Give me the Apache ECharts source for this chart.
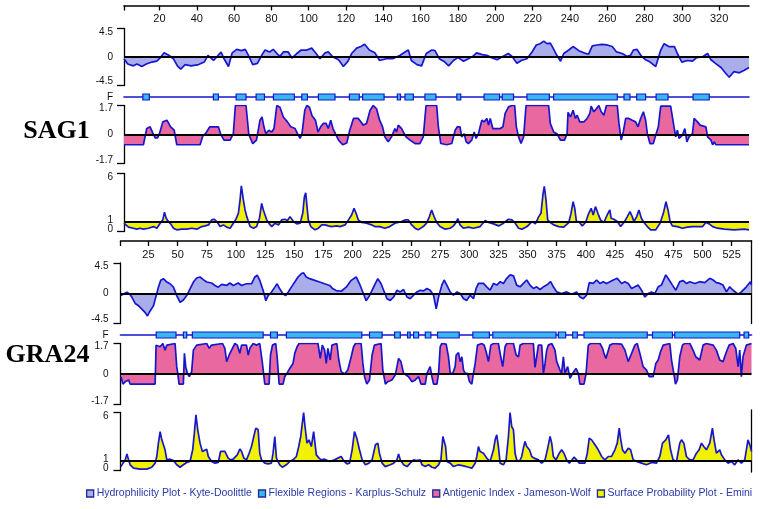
<!DOCTYPE html>
<html><head><meta charset="utf-8">
<script src="https://cdn.jsdelivr.net/npm/echarts@6/dist/echarts.min.js"></script>
<style>html,body{margin:0;padding:0;background:#fff}#c{width:765px;height:509px}</style>
</head><body><div id="c"></div>
<script>
// ---------- DATA ----------
const sag1Length = 336;
const gra24Length = 542;
const sag1TickLabels = [20,40,60,80,100,120,140,160,180,200,220,240,260,280,300,320];
const gra24TickLabels = [25,50,75,100,125,150,175,200,225,250,275,300,325,350,375,400,425,450,475,500,525];

const sag1Hydro = [[1,-0.27],[3,-1.1],[6,-1.4],[8,-1.1],[10.5,-1.5],[13,-1.1],[16,-0.8],[18.6,-0.66],[20,-0.27],[22.5,0.66],[25,0.27],[27.5,-0.27],[29.6,-1.4],[31.4,-1.9],[33.8,-1.2],[37,-1.4],[41,-1.2],[44,-0.8],[46,0.27],[49,-0.55],[50.7,0],[53,0.77],[54.6,-0.27],[57,-1.5],[59,0.66],[61.4,1.2],[64,1.0],[66,1.2],[67.7,0.27],[70,-1.2],[72.5,-1.0],[75,0.38],[76.6,1.1],[79,0.8],[81,1.2],[83,0.55],[84.6,0.1],[86.4,0.8],[89,0.8],[91,-0.16],[93.6,0.55],[96,1.1],[99,1.1],[101.6,1.4],[104,0.55],[106,-0.27],[108.8,0.66],[110.5,0.8],[113,0],[116,-0.44],[118.6,-1.5],[121,-0.7],[123,0.55],[125.7,1.4],[128,1.65],[130,2.0],[132.5,1.1],[135.5,0.66],[138,-0.55],[141.7,-0.27],[145,-0.27],[149,0.27],[151.6,0.8],[153.4,1.1],[155,-0.55],[158,-1.2],[160.5,-1.4],[163,0.55],[166,1.1],[167.7,1.0],[170,-0.27],[173,-0.8],[175,-1.4],[177.6,-0.55],[180,-0.1],[183,-0.66],[185.6,-0.27],[188,0.1],[190,0.66],[193,0.38],[195.5,0.27],[198,-0.1],[201,-0.44],[203.5,0],[207,0.55],[209,0.1],[211.6,-1.0],[214,-0.55],[217,-0.27],[219.7,0.8],[222,1.9],[224,2.1],[226,2.5],[227.7,2.1],[229.5,2.2],[231,1.4],[233,0.27],[235,-0.66],[236.7,0.55],[239.4,1.1],[241.7,1.65],[244.8,1.0],[247.5,0.66],[250,0.44],[252,1.75],[254.6,1.9],[257,2.0],[260,1.9],[262.7,1.65],[265,0.8],[268,0.55],[270.7,0.1],[272.5,0.27],[274,1.1],[276,1.2],[278,0.27],[280.6,-0.44],[283,-0.8],[286,-1.5],[288.7,1.1],[290.5,2.1],[293,1.65],[296,1.65],[297.6,0.55],[300,-0.8],[303,-0.55],[305.7,-0.66],[308,-0.1],[311,0],[313.8,0.55],[315.6,-0.44],[318,-1.0],[321,-1.65],[323.6,-2.6],[325.4,-3.2],[328,-2.3],[330.8,-2.5],[333.5,-2.1],[336,-1.65]];

const sag1Flexible = [[11.1,14.6],[48.9,51.6],[61.1,66.4],[71.8,76.3],[81.1,92.3],[96.3,99.3],[105.2,114.1],[121.8,127.1],[128.9,140.4],[147.5,149.2],[151.6,156.1],[162.3,168.2],[179.4,181.5],[194,202.3],[203.7,209.8],[217,229],[231.3,265.4],[269,272.2],[275.8,280.6],[286.2,292.6],[306,314.7]];

const sag1Antigenic = [[1,-0.6],[11.4,-0.6],[13.2,0.35],[15,0.45],[16.4,0.1],[17.7,-0.2],[19,-0.2],[20,0.05],[21.8,0.74],[24,0.84],[26,0.45],[27.9,0.25],[29.3,-0.6],[41.8,-0.6],[43.2,-0.1],[45,0.1],[47,0.45],[51.6,0.45],[52.9,0],[54.6,-0.33],[57.9,-0.33],[59.6,0.05],[60.7,1.7],[66.4,1.7],[67.9,0],[70,-0.53],[72,-0.33],[73.9,0.84],[75,1.03],[76,0.45],[77,0.05],[78.6,0.25],[80.2,0.15],[81.4,0.35],[82.9,1.7],[84.6,1.6],[86.4,1.03],[88.6,0.74],[90.4,0.45],[92.7,0.35],[94,0.05],[95.4,-0.23],[96.4,0.05],[97.9,1.42],[99,1.7],[100.4,1.6],[101.8,1.1],[103.6,0.84],[105,0.15],[106.4,0.45],[107.9,0.65],[109.3,0.65],[110.5,0.35],[111.8,0.84],[113,0.35],[116,-0.33],[118.2,-0.6],[120.4,-0.5],[122,0.25],[124,0.94],[126.6,0.94],[129.3,0.55],[131,0.65],[132.9,1.42],[134.6,1.7],[136.4,1.5],[138,0.84],[139.6,0.45],[140.8,-0.14],[142.6,-0.43],[143.5,-0.53],[144.4,-0.14],[146.2,0.35],[147.1,0.15],[148,0.55],[148.9,0.65],[149.8,0.35],[150.7,0.45],[152.1,-0.14],[154.3,-0.33],[157,-0.53],[159.6,-0.53],[161.4,-0.14],[162.9,1.7],[168.6,1.7],[169.5,0.45],[170.8,-0.53],[174,-0.6],[176.7,-0.53],[178.5,0.25],[179.7,0.45],[181.1,0.45],[182,-0.14],[183.3,0.05],[184.4,-0.43],[185.6,-0.53],[187.4,-0.33],[188.7,0.15],[189.7,-0.23],[191,0.05],[191.9,0.45],[192.8,0.84],[194,0.74],[195.5,0.94],[196.4,0.55],[197.3,0.94],[198.7,0.35],[202.7,0.35],[204.1,0.45],[205.3,1.24],[207.1,1.62],[208.9,1.7],[210.4,1.7],[211.3,0.45],[212.5,-0.14],[213.8,-0.53],[215.2,-0.14],[216.5,1.7],[228.6,1.7],[229.5,0.65],[231.3,0.15],[233.1,0.05],[234.9,-0.33],[237.1,-0.33],[238.5,0.05],[239,1.3],[240.3,1.03],[241.7,1.42],[243,0.94],[243.9,1.13],[245.3,0.74],[247.5,0.74],[249.2,0.94],[250.7,1.24],[251.4,1.66],[252.8,1.33],[254.3,1.52],[255.5,1.7],[256.8,1.33],[258.2,1.13],[259.6,1.7],[265.4,1.7],[266.3,0.65],[267.5,-0.33],[268.6,0.15],[269.9,0.94],[271.6,0.94],[273.4,0.84],[275.2,0.74],[276.5,0.45],[277.9,0.94],[279.4,1.33],[280.6,0.84],[281.5,0.05],[282.9,-0.53],[284.7,-0.53],[286,-0.04],[287.4,0.45],[288.7,1.66],[294,1.66],[295.5,0.65],[296.7,-0.14],[297.6,0.25],[298.5,-0.23],[300.3,-0.04],[301.6,0.35],[302.7,-0.43],[303.9,-0.14],[305.7,0.05],[306.6,0.94],[308.4,0.74],[309.8,0.55],[312.9,0.45],[313.8,-0.14],[315.6,-0.33],[316.5,-0.6],[317.4,-0.43],[318.2,-0.6],[336,-0.6]];

const sag1Surface = [[1,0.86],[3.4,0.45],[6,0.34],[7.9,0.24],[9.6,0.34],[11.4,0.24],[14.1,0.34],[16.8,0.51],[18.6,0.34],[20.4,0.86],[21.8,1.2],[22.7,2.0],[23.6,1.37],[24.8,1.03],[26,0.79],[27.5,0.34],[29.3,0.17],[32,0.24],[34.6,0.24],[37.3,0.34],[40,0.24],[42.7,0.51],[44.5,0.58],[46.3,0.68],[48,1.2],[49.3,1.27],[50.7,1.03],[52.5,0.51],[54.3,0.68],[56,0.45],[57.9,0.34],[59.6,0.86],[61,1.27],[62.3,1.88],[63.2,3.25],[63.9,4.73],[65,3.25],[65.9,2.23],[66.8,1.54],[67.7,1.03],[68.6,0.51],[70.4,0.34],[72.1,0.51],[73.6,1.37],[74.8,2.91],[75.7,2.23],[76.6,1.71],[77.5,1.2],[78.9,0.79],[80.2,0.51],[82,0.86],[83.8,0.68],[85.5,1.2],[87.3,1.27],[88.6,1.13],[90,1.54],[91,1.61],[91.8,1.03],[93.6,0.79],[95.4,0.86],[96.8,1.88],[97.7,3.6],[98.4,4.0],[99.1,2.57],[99.8,1.2],[101.1,0.51],[103.4,0.17],[105.2,0.34],[107,0.68],[108.8,0.68],[110.5,0.58],[112.3,0.51],[115,0.58],[116.8,0.51],[119.5,0.68],[121.3,1.2],[123,1.71],[124.3,2.4],[125.4,1.88],[126.6,1.2],[128.4,0.93],[131,0.86],[133.8,0.68],[135.5,0.51],[138.1,0.51],[140.8,0.34],[143.5,0.51],[146.2,0.86],[148,0.93],[149.8,1.03],[151.6,1.2],[153.4,1.2],[155.2,0.68],[157,0.34],[158.7,0.17],[161.4,0.51],[163.2,0.86],[164.7,1.54],[165.9,2.23],[167.2,1.54],[168.6,0.93],[170.4,0.51],[173.1,0.24],[175.8,0.34],[177.6,0.58],[179,0.93],[179.9,1.34],[181.1,0.68],[182.9,0.34],[185.6,0.45],[188.3,0.34],[191.9,0.51],[194.6,1.13],[196.4,0.93],[199.1,0.79],[201.8,0.58],[204.4,0.86],[207.1,1.27],[208.9,1.2],[210.7,0.86],[212.5,0.34],[214.3,0.24],[217,0.51],[219.7,1.03],[221.5,0.79],[223.3,1.54],[224.5,1.88],[225.6,3.9],[226.3,4.66],[227.2,3.25],[228.1,1.2],[229.5,0.93],[231.3,0.68],[234,0.51],[236.7,0.45],[239.4,0.93],[240.6,1.88],[241.7,3.08],[242.6,2.4],[243.5,1.03],[244.8,1.03],[246.6,0.58],[248.4,0.93],[250.1,1.88],[251.4,2.4],[252.5,1.71],[253.7,2.57],[255,1.88],[256.4,1.2],[258.2,0.93],[260,1.71],[261.4,2.23],[262.1,1.37],[263.6,1.27],[265.4,1.03],[267.2,0.51],[269,0.93],[270.8,1.54],[272.2,2.05],[273.4,1.54],[274.3,1.03],[275.8,1.54],[277,2.23],[278.3,1.37],[279.7,0.93],[281.5,0.51],[283.3,0.17],[286,0.17],[288.3,0.86],[290.1,1.88],[291.5,3.08],[292.6,2.23],[293.7,1.03],[294.9,0.58],[297.6,0.51],[300.3,0.34],[303,0.45],[305.7,0.51],[308.4,0.51],[311.1,0.51],[312.9,0.93],[314.7,0.79],[316.5,0.51],[319.1,0.34],[322.7,0.24],[328.1,0.17],[333.5,0.24],[336,0.17]];

const gra24Hydro = [[1.4,-0.35],[3.6,-0.1],[6.5,0.15],[8.8,-0.1],[10.8,-0.6],[13.6,-1.52],[16.5,-1.87],[19.3,-2.37],[22.2,-2.88],[24.1,-3.38],[26.4,-2.63],[29.3,-1.87],[31.6,-0.35],[33.5,0.91],[35.5,1.92],[37.8,2.17],[40.7,1.67],[43.5,1.41],[46.4,0.91],[49.2,-0.35],[52.1,-1.36],[54.9,-1.01],[57.8,-0.35],[60.6,0.66],[63.5,1.67],[66.3,2.27],[69.2,2.42],[72,2.02],[74.9,1.67],[79.1,1.52],[82,1.16],[84.8,0.91],[87.7,1.31],[92,1.16],[94.8,1.52],[97.6,1.16],[101.9,1.52],[104.8,1.16],[109,1.41],[113.3,1.41],[116.2,2.42],[118.2,2.68],[120.4,1.92],[123.3,0.4],[125.6,-1.11],[127.6,-0.35],[130.4,0.15],[133.3,0.91],[135.3,1.41],[137.5,0.66],[140.4,-0.1],[142.7,-0.35],[144.7,0.15],[147.5,0.91],[150.4,1.67],[153.2,2.42],[156.1,2.93],[158,3.03],[160.3,2.42],[163.2,2.17],[167.5,1.92],[171.7,1.67],[176,1.41],[180.3,1.16],[183.1,0.66],[186,0.4],[190.2,0.3],[194.5,0.91],[198.8,1.92],[203.1,2.42],[205.9,1.41],[208.8,0.15],[211.6,-1.11],[214.5,-0.35],[218.7,1.16],[221.6,2.17],[224.4,1.41],[229.5,-0.81],[232.3,-1.06],[235.2,-0.56],[238,0.45],[240.9,0.2],[243.7,0.56],[246.6,-0.56],[249.4,-0.81],[252.3,-0.3],[255.1,0.2],[258,0.45],[260.8,0.35],[263.7,0.71],[266.5,0.45],[269.4,-0.3],[271.7,-2.32],[273.7,-0.56],[276.5,1.21],[278.5,1.97],[280.8,1.21],[283.6,0.2],[286.5,-0.3],[289.4,0.2],[292.2,-0.05],[295.1,-0.81],[297.9,-1.06],[300.8,-0.3],[303.6,-0.81],[305.9,0.71],[307.9,1.46],[312.2,1.46],[315,0.96],[317.9,0.45],[320.8,1.46],[323.6,1.21],[326.5,1.72],[329.3,1.46],[332.2,2.22],[335,2.73],[337.9,2.58],[340.7,1.21],[343.6,0.96],[346.4,1.46],[349.3,1.97],[352.1,1.21],[355,0.71],[357.8,0.96],[360.7,0.56],[363.6,0.96],[366.4,1.21],[369.8,1.72],[372.1,0.96],[375,0.2],[379.2,-0.05],[383.5,0.2],[387.8,-0.15],[392.1,0.2],[394.9,-0.56],[397.8,-0.81],[400.6,-0.3],[402.9,1.57],[406.3,1.46],[409.2,1.97],[412,1.46],[414.9,1.72],[417.7,1.46],[420.6,1.72],[423.5,1.97],[426.9,2.22],[430.6,1.46],[433.5,1.72],[436.3,1.46],[439.2,0.71],[442,0.96],[444.9,1.21],[447.7,0.45],[450.6,-0.56],[453.4,-0.05],[456.3,0.2],[459.1,-0.05],[462,0.96],[464.8,1.21],[468.5,2.73],[471.4,1.97],[474.2,1.21],[477.1,0.45],[480.5,1.72],[483.4,1.87],[486.2,1.46],[489.1,1.72],[493.4,1.46],[497.6,1.72],[501.9,1.57],[506.2,2.22],[509.1,1.97],[511.9,1.57],[514.8,1.46],[517.6,1.21],[520.5,0.2],[523.3,0.96],[526.2,0.45],[530.5,-0.15],[533.3,0.2],[537.6,0.96],[541,1.72],[542,1.21]];

const gra24Flexible = [[31.6,48.6],[54.9,57.8],[62.6,123.3],[129.6,135.5],[143.2,207.9],[214.5,225.3],[236,240.9],[247.1,249.4],[252.3,256.6],[262.3,267.1],[272.8,291.4],[303.1,317.3],[320.2,374.4],[376.4,382.7],[388.7,392.7],[398.4,452.6],[457.1,474.2],[476.2,531.9],[535.6,539.6]];

const gra24Antigenic = [[1.4,-0.15],[3.1,-0.56],[5.1,-0.43],[7.9,-0.33],[9.3,-0.56],[30.7,-0.56],[31.5,1.6],[35,1.52],[37.3,1.7],[39.2,1.33],[40.7,1.61],[42.1,1.7],[47.8,1.7],[49.2,0.41],[50.1,0.04],[51.2,-0.56],[54.9,-0.56],[55.8,1.15],[56.9,0.41],[58.3,0.04],[60,-0.15],[62,0.13],[63.5,1.33],[66.3,1.61],[67.7,1.7],[74.9,1.7],[77.1,1.43],[79.1,1.61],[80.6,1.7],[88.5,1.7],[90.5,1.43],[92,0.69],[94.2,1.06],[96.2,1.33],[99.1,1.7],[101.1,1.61],[103.3,1.15],[104.8,1.61],[106.2,1.7],[109,1.61],[110.5,1.06],[111.9,1.43],[114.7,1.7],[117.6,1.61],[120.4,1.7],[122.7,0.59],[124.7,-0.56],[128.4,-0.56],[129.6,1.06],[131.3,1.61],[134.1,1.7],[135.3,0.96],[137,-0.56],[140.4,-0.56],[141.8,-0.15],[143.8,0.04],[146.1,0.31],[148.9,0.59],[150.4,1.15],[152.4,1.52],[154.1,1.7],[170.3,1.7],[172.3,0.87],[174,1.61],[176,1.33],[177.4,0.59],[178.8,1.43],[180.8,0.78],[182.3,1.61],[183.7,1.7],[186.5,1.7],[188.2,0.78],[190.2,0.13],[193.1,0],[195.9,0.22],[198.8,0.96],[200.8,1.52],[202.5,1.7],[207.3,1.7],[208.8,0.59],[210.2,-0.15],[212.2,-0.56],[214.5,-0.33],[216.7,1.06],[218.7,1.61],[224.4,1.7],[225.9,0.22],[228.1,-0.56],[230.1,-0.43],[233.7,-0.33],[236.6,-0.06],[239.4,0.87],[241.4,0.69],[243.7,0.04],[245.1,0.13],[248,-0.15],[250.9,-0.43],[253.7,-0.33],[256.6,-0.15],[258.6,-0.56],[262.3,-0.56],[263.7,0.04],[265.1,0.13],[266.5,0.41],[268,-0.15],[269.4,-0.56],[272.3,-0.56],[273.7,0.04],[275.1,1.52],[276.5,1.7],[280.2,1.67],[282.2,0.96],[283.7,0.04],[285.9,0.04],[287.9,0.41],[288.8,1.06],[290.8,1.19],[292.2,0.69],[293.7,0.96],[295.1,0.22],[296.5,0.04],[298.5,0.04],[300.2,-0.43],[302.2,-0.56],[303.6,0.04],[305.1,0.59],[307.1,1.61],[310.8,1.7],[312.8,1.61],[314.5,1.24],[316.5,0.69],[318.5,1.61],[320.8,1.7],[325,1.7],[327,0.96],[328.7,0.41],[330.7,1.52],[332.2,1.7],[337.9,1.7],[340.2,1.06],[342.2,0.96],[343.6,1.61],[346.4,1.7],[355,1.7],[356.4,0.37],[357.8,0.96],[359.3,1.61],[362.1,1.61],[363.6,0.04],[365,0.59],[366.4,1.33],[367.8,1.61],[370.7,1.7],[373.5,1.33],[375,0.69],[377.8,0.22],[379.2,0.04],[380.7,0.96],[382.1,0.04],[384.4,0.41],[386.4,-0.24],[388.7,0.04],[391.5,0.31],[393.5,0.04],[394.9,-0.56],[398.4,-0.56],[400.1,0],[402.1,1.61],[404.1,1.7],[412.1,1.7],[414.3,1.43],[415.5,1.15],[417.2,0.87],[420.6,1.61],[423.5,1.7],[430.6,1.67],[433.5,1.33],[436.3,0.69],[439.2,1.15],[442,1.61],[444,1.7],[446.3,1.15],[449.1,0.41],[452,0.22],[454.3,-0.15],[457.7,-0.15],[460,0.59],[462,0.78],[464,1.24],[466.3,1.61],[467.7,1.7],[472,1.7],[473.4,0.78],[475.4,0.04],[476.8,-0.56],[478.5,-0.33],[480.5,0.96],[482.8,1.61],[484.8,1.7],[489.1,1.7],[491.9,1.33],[494.2,0.96],[497.6,0.78],[500.5,1.61],[503.3,1.7],[509.1,1.61],[511.9,1.33],[514.8,0.78],[517.6,0.69],[520.5,1.24],[522.8,1.61],[526.2,1.7],[528.5,1.43],[530.5,0.41],[531.9,1.33],[533.3,-0.15],[534.7,0.96],[537.6,1.61],[539,1.7],[542,1.7]];

const gra24Surface = [[1.4,0.41],[3.1,0.76],[5.1,1.1],[6.5,1.72],[7.9,1.1],[9.3,0.59],[12.2,0.24],[17.9,0.14],[23.6,0.14],[27.8,0.34],[30.7,0.76],[32.1,1.45],[33.5,2.83],[35,4.03],[36.4,3.17],[37.8,3.34],[39.2,2.14],[40.7,1.1],[43.5,1.17],[46.4,1.03],[49.2,0.59],[52.1,0.34],[54.9,0.59],[57.8,0.83],[60.6,0.93],[62.9,2.14],[64.3,3.86],[65.7,5.76],[67.2,4.21],[69.2,2.83],[71.2,1.97],[72.6,2.14],[74.9,2.21],[76.3,1.45],[79.1,0.93],[82,0.76],[84.8,0.83],[86.8,1.97],[88.5,1.86],[90.5,1.97],[93.3,1.28],[95.4,1.1],[97.6,1.17],[101.1,1.62],[103.3,2.21],[104.8,1.97],[106.8,1.28],[109,1.1],[111.3,1.79],[113.3,2.48],[115.3,3.52],[117,4.38],[119,4.21],[120.4,1.79],[121.9,1.1],[124.7,0.76],[127.6,0.69],[130.4,0.76],[131.8,1.79],[133.3,3.52],[134.7,1.28],[137.5,0.59],[139.8,0.34],[143.2,0.59],[146.1,0.93],[148.9,1.1],[151.8,1.45],[153.8,2.48],[155.5,3.52],[156.9,4.9],[158,6.0],[159.2,4.55],[160.9,2.83],[162.6,3.17],[164.6,2.48],[166.6,4.03],[168.9,1.62],[171.2,1.28],[173.1,1.1],[176,1.17],[180.3,0.93],[184.5,1.1],[187.4,1.28],[190.2,1.45],[192.2,1.03],[195.1,0.69],[197.4,0.76],[199.6,2.14],[201.6,4.03],[203.6,3.34],[205.9,2.14],[208.2,1.1],[211,0.59],[213.9,0.76],[216.7,1.1],[219.6,2.66],[221.6,2.83],[223,1.79],[225.3,0.76],[228,0.4],[229.5,0.34],[232.3,0.59],[235.2,0.76],[238,1.1],[239.4,1.72],[240.9,1.1],[243.7,0.59],[246.6,0.41],[249.4,0.76],[252.3,1.1],[255.1,1.03],[258,1.1],[259.4,0.59],[262.3,0.41],[265.1,0.59],[268,0.34],[270.8,0.24],[273.7,0.59],[275.7,1.1],[277.4,3.52],[278.5,3.69],[279.7,2.48],[280.8,0.93],[283.7,0.76],[286.5,0.41],[290.8,0.59],[295.1,0.48],[299.4,0.34],[302.2,0.24],[305.1,0.76],[306.5,1.45],[307.9,2.48],[309.3,1.97],[312.2,1.79],[315,1.28],[317.9,0.93],[320.8,2.14],[322.2,3.17],[323.6,3.69],[325,2.48],[326.5,0.76],[329.3,0.59],[331.6,1.1],[333.6,3.52],[335,6.0],[336.4,4.55],[337.9,4.21],[339.3,1.79],[340.7,1.1],[343,0.93],[345,1.45],[346.4,2.31],[347.8,3.0],[349.3,2.48],[351.6,2.14],[353.6,1.45],[355.6,1.28],[357.3,1.45],[359.3,1.1],[362.1,0.76],[365,1.1],[367,2.14],[369.3,3.52],[370.7,2.83],[372.1,1.45],[374.4,1.1],[377.2,1.79],[379.2,2.14],[381.2,1.79],[383.5,1.1],[385.8,0.76],[387.8,1.03],[389.8,1.38],[392.1,1.1],[394.4,0.76],[399.2,0.76],[401.2,1.79],[402.9,3.34],[404.9,3.17],[407.8,2.66],[410.6,2.14],[413.5,1.45],[416.3,1.1],[419.2,1.45],[422,1.45],[424.9,2.14],[426.9,2.83],[428.6,4.38],[429.7,3.34],[431.4,2.14],[433.5,1.79],[436.3,2.31],[438.3,2.14],[440.6,1.1],[443.4,0.93],[447.7,0.76],[452,0.59],[456.3,0.83],[460.6,0.76],[463.4,1.45],[465.7,2.83],[468.5,3.17],[470.8,3.69],[472.6,2.14],[474.8,1.1],[477.7,0.93],[480.5,2.83],[482,3.17],[484,2.83],[486.2,1.45],[489.1,1.1],[491.9,1.1],[494.8,1.79],[497.1,2.14],[499.1,2.83],[501.1,2.48],[503.3,2.14],[506.2,2.83],[508.5,4.38],[509.9,3.17],[511.9,1.79],[514.8,2.14],[516.2,1.62],[519.1,1.1],[521.9,0.76],[524.8,0.93],[527.6,0.59],[530.5,1.1],[533.3,0.76],[536.2,1.1],[539,3.17],[541,2.48],[542,1.97]];

const surfaceBaseline = 1;
const seriesNames = ['Hydrophilicity Plot - Kyte-Doolittle','Flexible Regions - Karplus-Schulz','Antigenic Index - Jameson-Wolf','Surface Probability Plot - Emini'];

// ---------- STYLE ----------
const BLUE = '#1616d0';
const C_HYDRO = '#a9aeea', C_FLEX = '#39b6ec', C_ANT = '#e9689f', C_SURF = '#f2f200';
const LBL = {fontFamily:'Liberation Sans, Arial, sans-serif', color:'#111'};

const grids = [], xAxes = [], yAxes = [], series = [];
function addGrid(g){ grids.push(Object.assign({containLabel:false}, g)); return grids.length - 1; }

function yAxisDef(gi, min, max, labels, margin, padTop, padBottom){
  return {
    type:'value', gridIndex:gi, min, max, position:'left',
    splitLine:{show:false},
    axisLine:{show:true, onZero:false, lineStyle:{color:'#000', width:1.3}},
    axisTick:{show:true, length:7, customValues:[min,max], lineStyle:{color:'#000', width:1.3}},
    axisLabel:{customValues:labels, margin, fontSize:10, lineHeight:4, hideOverlap:false,
      showMinLabel:true, showMaxLabel:true, ...LBL,
      formatter: v => v === max ? '{t|' + v + '}' : (v === min ? '{b|' + v + '}' : '{m|' + v + '}'),
      rich:{
        t:{fontSize:10, lineHeight:4, ...LBL, padding:[padTop,0,0,0]},
        b:{fontSize:10, lineHeight:4, ...LBL, padding:[0,0,padBottom,0]},
        m:{fontSize:10, lineHeight:4, ...LBL}
      }}
  };
}
function hiddenX(gi, len){
  return {type:'value', gridIndex:gi, min:1, max:len, show:false};
}
function baseLine(v){
  return {silent:true, symbol:['none','none'], animation:false, label:{show:false},
    lineStyle:{color:'#000', width:1.8, type:'solid'}, data:[{yAxis:v}]};
}

function addProtein(p){
  const lm = p.labelMargin;
  // hydrophilicity + top residue axis
  let gi = addGrid({left:p.left, width:p.width, top:p.hydroTop, height:p.hydroH});
  xAxes.push({type:'value', gridIndex:gi, min:1, max:p.len, position:'top', offset:p.axisOffset,
    splitLine:{show:false},
    axisLine:{show:true, onZero:false, lineStyle:{color:'#000', width:1.6}},
    axisTick:{show:true, inside:true, length:5, customValues:[1].concat(p.ticks), lineStyle:{color:'#000', width:1.3}},
    axisLabel:{show:true, inside:true, margin:8, customValues:p.ticks, fontSize:11, ...LBL}});
  yAxes.push(yAxisDef(gi, -4.5, 4.5, [-4.5, 0, 4.5], lm, 7, 8));
  series.push({type:'line', name:seriesNames[0], xAxisIndex:xAxes.length-1, yAxisIndex:yAxes.length-1,
    data:p.hydro, symbol:'none', animation:false,
    lineStyle:{color:BLUE, width:1.7}, itemStyle:{color:C_HYDRO},
    areaStyle:{color:C_HYDRO, opacity:1, origin:0}, markLine:baseLine(0)});

  // flexible regions
  gi = addGrid({left:p.left, width:p.width, top:p.flexTop, height:6});
  xAxes.push({type:'value', gridIndex:gi, min:1, max:p.len, position:'bottom',
    splitLine:{show:false}, axisTick:{show:false}, axisLabel:{show:false},
    axisLine:{show:true, onZero:true, lineStyle:{color:BLUE, width:1.6}}});
  yAxes.push({type:'value', gridIndex:gi, min:-1, max:1, splitLine:{show:false},
    axisLine:{show:false}, axisTick:{show:false},
    axisLabel:{customValues:[0], margin:lm, fontSize:10, ...LBL, formatter:() => 'F'}});
  series.push({type:'custom', name:seriesNames[1], xAxisIndex:xAxes.length-1, yAxisIndex:yAxes.length-1,
    data:p.flex, encode:{x:[0,1]}, animation:false, itemStyle:{color:C_FLEX},
    renderItem:(params, api) => {
      const a = api.coord([api.value(0), 1]);
      const b = api.coord([api.value(1), -1]);
      return {type:'rect', shape:{x:a[0], y:a[1], width:b[0]-a[0], height:b[1]-a[1]},
        style:{fill:C_FLEX, stroke:BLUE, lineWidth:1.2}};
    }});

  // antigenic index
  gi = addGrid({left:p.left, width:p.width, top:p.antTop, height:p.antH});
  xAxes.push(hiddenX(gi, p.len));
  yAxes.push(yAxisDef(gi, -1.7, 1.7, [-1.7, 0, 1.7], lm, 6, 6));
  series.push({type:'line', name:seriesNames[2], xAxisIndex:xAxes.length-1, yAxisIndex:yAxes.length-1,
    data:p.ant, symbol:'none', animation:false,
    lineStyle:{color:BLUE, width:1.7}, itemStyle:{color:C_ANT},
    areaStyle:{color:C_ANT, opacity:1, origin:0}, markLine:baseLine(0)});

  // surface probability
  gi = addGrid({left:p.left, width:p.width, top:p.surfTop, height:p.surfH});
  xAxes.push(hiddenX(gi, p.len));
  yAxes.push(yAxisDef(gi, 0, 6, [0, 6], lm, 7, 5));
  series.push({type:'line', name:seriesNames[3], xAxisIndex:xAxes.length-1, yAxisIndex:yAxes.length-1,
    data:p.surf, symbol:'none', animation:false,
    lineStyle:{color:BLUE, width:1.7}, itemStyle:{color:C_SURF},
    areaStyle:{color:C_SURF, opacity:1, origin:surfaceBaseline}, markLine:baseLine(surfaceBaseline)});
  // separate overlay axis carrying the baseline label "1"
  gi = addGrid({left:p.left, width:p.width, top:p.surfTop, height:p.surfH});
  xAxes.push(hiddenX(gi, p.len));
  yAxes.push({type:'value', gridIndex:gi, min:0, max:6, position:'left', splitLine:{show:false},
    axisLine:{show:false}, axisTick:{show:false},
    axisLabel:{customValues:[surfaceBaseline], margin:lm, fontSize:10, ...LBL,
      formatter: v => '{b|' + v + '}', rich:{b:{fontSize:10, lineHeight:4, ...LBL, padding:[0,0,4,0]}}}});

  // right frame pieces
  (p.frames || []).forEach(f => {
    const g = addGrid({left:p.left, width:p.width, top:f[0], height:f[1]});
    xAxes.push(hiddenX(g, p.len));
    yAxes.push({type:'value', gridIndex:g, min:0, max:1, position:'right', splitLine:{show:false},
      axisLine:{show:true, onZero:false, lineStyle:{color:'#000', width:1.3}},
      axisTick:{show:false}, axisLabel:{show:false}});
  });
}

addProtein({len:sag1Length, ticks:sag1TickLabels, left:124, width:625, axisOffset:23,
  hydroTop:28.5, hydroH:57, flexTop:94, antTop:105.5, antH:58, surfTop:173.5, surfH:58, labelMargin:11,
  hydro:sag1Hydro, flex:sag1Flexible, ant:sag1Antigenic, surf:sag1Surface});

addProtein({len:gra24Length, ticks:gra24TickLabels, left:120.5, width:631, axisOffset:22,
  hydroTop:263, hydroH:60.5, flexTop:332, antTop:343.5, antH:61, surfTop:412.5, surfH:58, labelMargin:12,
  hydro:gra24Hydro, flex:gra24Flexible, ant:gra24Antigenic, surf:gra24Surface,
  frames:[[241, 82.5], [410, 62]]});

const chart = echarts.init(document.getElementById('c'), null, {renderer:'canvas'});
chart.setOption({
  backgroundColor:'#fff',
  animation:false,
  grid:grids, xAxis:xAxes, yAxis:yAxes, series:series,
  legend:{
    left:86, top:488, width:679, icon:'rect', itemWidth:7, itemHeight:7, itemGap:6, selectedMode:false,
    padding:0,
    textStyle:{color:'#2a3aa6', fontSize:10.5, fontFamily:'Liberation Sans, Arial, sans-serif', padding:[0,0,0,-2]},
    data:[
      {name:seriesNames[0], itemStyle:{color:C_HYDRO, borderColor:'#1b2a9c', borderWidth:1.3}},
      {name:seriesNames[1], itemStyle:{color:C_FLEX, borderColor:'#1b2a9c', borderWidth:1.3}},
      {name:seriesNames[2], itemStyle:{color:C_ANT, borderColor:'#1b2a9c', borderWidth:1.3}},
      {name:seriesNames[3], itemStyle:{color:C_SURF, borderColor:'#1b2a9c', borderWidth:1.3}}
    ]
  },
  graphic:[
    {type:'text', x:56.5, y:131, style:{text:'SAG1', fill:'#000', font:'bold 26px "Liberation Serif", "Times New Roman", serif', align:'center', verticalAlign:'middle'}},
    {type:'text', x:47.5, y:355, style:{text:'GRA24', fill:'#000', font:'bold 26px "Liberation Serif", "Times New Roman", serif', align:'center', verticalAlign:'middle'}}
  ]
});
</script>
</body></html>
